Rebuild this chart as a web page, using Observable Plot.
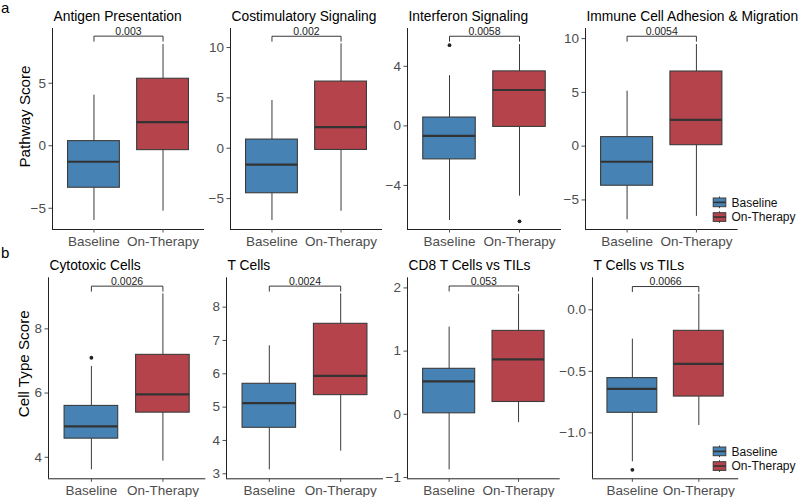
<!DOCTYPE html>
<html>
<head>
<meta charset="utf-8">
<script src="https://cdn.jsdelivr.net/npm/d3@7"></script>
<script src="https://cdn.jsdelivr.net/npm/@observablehq/plot@0.6"></script>
<style>
  html, body { margin: 0; padding: 0; background: #fff; }
  #chart { position: relative; width: 798px; height: 497px; overflow: hidden; font-family: "Liberation Sans", Arial, sans-serif; }
  #chart > svg { position: absolute; }
</style>
</head>
<body>
<div id="chart"></div>
<script>
// Treatment groups and their fills
const groups = ["Baseline", "On-Therapy"];
const groupColors = ["#4682B4", "#B4434C"];

// Panel titles: (a) pathway scores, (b) cell type scores
const panelTitles = [
  "Antigen Presentation", "Costimulatory Signaling", "Interferon Signaling", "Immune Cell Adhesion & Migration",
  "Cytotoxic Cells", "T Cells", "CD8 T Cells vs TILs", "T Cells vs TILs"
];
const axisTitles = ["Pathway Score", "Cell Type Score"];
const pValues = ["0.003", "0.002", "0.0058", "0.0054", "0.0026", "0.0024", "0.053", "0.0066"];

// Box statistics per panel: [Baseline, On-Therapy]
const whiskerLow = [[-5.98, -5.23], [-7.18, -6.26], [-6.36, -4.72], [-6.84, -6.53], [3.61, 3.88], [3.12, 3.68], [-0.88, -0.13], [-1.235, -0.94]];
const lowerQuartile = [[-3.36, -0.35], [-4.47, -0.17], [-2.25, -0.07], [-3.68, 0.09], [4.58, 5.39], [4.38, 5.36], [0.016, 0.195], [-0.837, -0.705]];
const medians = [[-1.28, 1.89], [-1.62, 2.09], [-0.67, 2.41], [-1.45, 2.45], [4.96, 5.96], [5.12, 5.94], [0.52, 0.87], [-0.642, -0.44]];
const upperQuartile = [[0.37, 5.36], [0.86, 6.62], [0.56, 3.66], [0.84, 6.94], [5.60, 7.19], [5.70, 7.50], [0.72, 1.32], [-0.555, -0.171]];
const whiskerHigh = [[4.05, 8.1], [4.74, 10.37], [3.37, 5.46], [5.11, 9.45], [6.83, 9.09], [6.84, 8.40], [1.38, 1.90], [-0.238, 0.127]];
// Outlying samples: group index and value
const outliers = [[], [], [{g: 0, v: 5.42}, {g: 1, v: -6.41}], [], [{g: 0, v: 7.10}], [], [], [{g: 0, v: -1.30}]];
// Height of the significance bracket
const bracketY = [8.77, 11.12, 6.02, 10.22, 9.33, 8.63, 2.03, 0.189];

// Y scales and tick values
const yDomains = [[-6.70, 9.38], [-8.07, 11.89], [-6.96, 6.54], [-7.75, 10.94], [3.33, 9.59], [2.85, 8.88], [-1.02, 2.16], [-1.373, 0.26]];
const yTicks = [[-5, 0, 5], [-5, 0, 5, 10], [-4, 0, 4], [-5, 0, 5, 10], [4, 6, 8], [3, 4, 5, 6, 7, 8], [-1, 0, 1, 2], [-1, -0.5, 0]];
const yTickFormats = ["d", "d", "d", "d", "d", "d", "d", ".1f"];

// Panel frame placement on the page
const frameX = [[52, 204], [230, 382], [407, 561], [585, 737.5], [47.7, 205], [225.7, 382.7], [407.3, 560], [592.3, 738.5]];
const rowLayout = [
  {top: 0, height: 250, marginTop: 28, marginBottom: 21, titleDy: -12, labelDy: -12.5},
  {top: 249, height: 248, marginTop: 28.3, marginBottom: 18.7, titleDy: -12.3, labelDy: -14.5}
];

const font = `"Liberation Sans", Arial, Helvetica, sans-serif`;
const boxHalf = 0.375;
const chart = document.getElementById("chart");

panelTitles.forEach((title, i) => {
  const row = i < 4 ? 0 : 1;
  const L = rowLayout[row];
  const [fx0, fx1] = frameX[i];
  const ML = 52, MR = 12;
  const [y0, y1] = yDomains[i];
  const rows = groups.map((g, j) => ({
    group: g, pos: j + 1,
    lo: whiskerLow[i][j], q1: lowerQuartile[i][j], med: medians[i][j],
    q3: upperQuartile[i][j], hi: whiskerHigh[i][j]
  }));
  const tip = 0.025 * (y1 - y0);
  const br = bracketY[i];
  const bracket = [
    {x: 1, y: br - tip}, {x: 1, y: br}, {x: 2, y: br}, {x: 2, y: br - tip}
  ];
  const fmt = d3.format(yTickFormats[i]);

  const marks = [
    Plot.ruleX(rows, {x: "pos", y1: "lo", y2: "q1", stroke: "#3a3a3a", strokeWidth: 1}),
    Plot.ruleX(rows, {x: "pos", y1: "q3", y2: "hi", stroke: "#3a3a3a", strokeWidth: 1}),
    Plot.rect(rows, {x1: d => d.pos - boxHalf, x2: d => d.pos + boxHalf, y1: "q1", y2: "q3", fill: "group", stroke: "#3c3c3c", strokeWidth: 1.1}),
    Plot.ruleY(rows, {y: "med", x1: d => d.pos - boxHalf, x2: d => d.pos + boxHalf, stroke: "#333", strokeWidth: 2.2}),
    Plot.dot(outliers[i], {x: d => d.g + 1, y: "v", r: 1.9, fill: "#222", stroke: "none"}),
    Plot.line(bracket, {x: "x", y: "y", stroke: "#222", strokeWidth: 0.9}),
    Plot.text([{x: 1.5, y: br, label: pValues[i]}], {x: "x", y: "y", text: "label", lineAnchor: "bottom", dy: -1.2, fontSize: 10.5, fill: "#222"}),
    Plot.ruleX([0.4], {stroke: "#222", strokeWidth: 1}),
    Plot.ruleY([y0], {stroke: "#222", strokeWidth: 1}),
    Plot.axisY({ticks: yTicks[i], tickFormat: fmt, tickSize: 3.5, tickPadding: 3, label: null}),
    Plot.axisX({ticks: [1, 2], tickFormat: d => groups[d - 1], tickSize: 3.5, tickPadding: 3.5, label: null}),
    Plot.text([title], {frameAnchor: "top-left", dx: 1, dy: L.titleDy, textAnchor: "start", lineAnchor: "middle", fontSize: 13.8, fill: "#000"})
  ];
  if (i === 0 || i === 4) {
    marks.push(Plot.text([axisTitles[row]], {
      frameAnchor: "left", dx: i === 0 ? -27 : -24.4, dy: L.labelDy, rotate: -90,
      textAnchor: "middle", lineAnchor: "middle", fontSize: 15.2, fill: "#000"
    }));
  }

  const svg = Plot.plot({
    width: ML + (fx1 - fx0) + MR,
    height: L.height,
    marginLeft: ML, marginRight: MR, marginTop: L.marginTop, marginBottom: L.marginBottom,
    x: {type: "linear", domain: [0.4, 2.6]},
    y: {type: "linear", domain: yDomains[i]},
    color: {domain: groups, range: groupColors},
    style: {fontFamily: font, fontSize: "13.5px", color: "#4d4d4d", background: "transparent", overflow: "visible"},
    marks
  });
  svg.style.left = (fx0 - ML) + "px";
  svg.style.top = L.top + "px";
  svg.style.maxWidth = "none";
  chart.appendChild(svg);
});

// Group legends beside the last panel of each row, with boxplot-style keys
function legend(left, top) {
  const keyW = 17, keyH = 14.7;
  const svg = d3.create("svg").attr("width", 90).attr("height", 34)
    .style("left", left + "px").style("top", top + "px").style("overflow", "visible")
    .attr("font-family", font);
  groups.forEach((g, j) => {
    const k = svg.append("g").attr("transform", `translate(0,${j * keyH})`);
    const cx = keyW / 2;
    k.append("line").attr("x1", cx).attr("x2", cx).attr("y1", 1.5).attr("y2", keyH - 1.5).attr("stroke", "#3a3a3a");
    k.append("rect").attr("x", 2.2).attr("width", keyW - 4.4).attr("y", 3).attr("height", keyH - 6)
      .attr("fill", groupColors[j]).attr("stroke", "#3c3c3c").attr("stroke-width", 1);
    k.append("line").attr("x1", 2.2).attr("x2", keyW - 2.2).attr("y1", keyH / 2).attr("y2", keyH / 2)
      .attr("stroke", "#333").attr("stroke-width", 1.6);
    k.append("text").attr("x", keyW + 3.5).attr("y", keyH / 2).attr("dy", "0.35em")
      .attr("font-size", 12).attr("fill", "#111").text(g);
  });
  chart.appendChild(svg.node());
}
legend(711, 194.5);
legend(711, 444);

// Section letters
const letters = d3.create("svg").attr("width", 20).attr("height", 497).style("left", "0px").style("top", "0px")
  .attr("font-family", font);
letters.append("text").attr("x", 1).attr("y", 13).attr("font-size", 15).attr("fill", "#000").text("a");
letters.append("text").attr("x", 1).attr("y", 258).attr("font-size", 15).attr("fill", "#000").text("b");
chart.appendChild(letters.node());
</script>
</body>
</html>
